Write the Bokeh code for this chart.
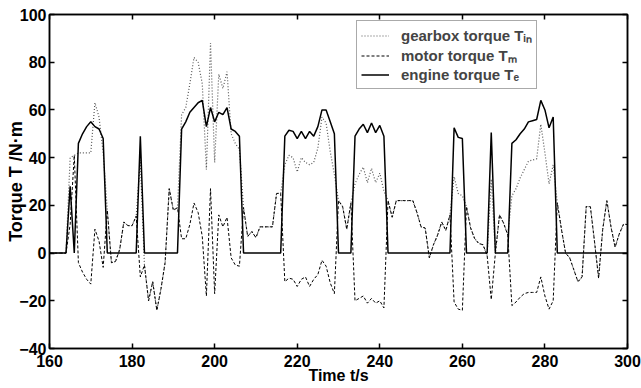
from bokeh.plotting import figure
from bokeh.models import Range1d, LinearAxis, Legend, LegendItem, FixedTicker
from bokeh.embed import file_html
from bokeh.resources import INLINE

time = list(range(160, 301))
engine = [0, 0, 0, 0, 0, 28, 0, 46, 50, 53,
          55, 53, 52, 48, 0, 0, 0, 0, 0, 0,
          0, 0, 49, 0, 0, 0, 0, 0, 0, 0,
          0, 0, 52, 55, 59, 61, 63, 64, 53, 61,
          55, 59, 58, 61, 52, 51, 49, 0, 0, 0,
          0, 0, 0, 0, 0, 0, 0, 49, 51.5, 51,
          48, 51, 48, 51, 49, 53, 60, 60, 55, 50,
          0, 0, 0, 0, 49, 52, 54, 50.5, 54.5, 50.5,
          53.5, 49, 0, 0, 0, 0, 0, 0, 0, 0,
          0, 0, 0, 0, 0, 0, 0, 0, 52.5, 48.5,
          48, 0, 0, 0, 0, 0, 0, 50.5, 0, 0,
          0, 0, 46, 47.5, 50, 52, 55, 55.5, 56, 64,
          60, 52.5, 57, 0, 0, 0, 0, 0, 0, 0,
          0, 0, 0, 0, 0, 0, 0, 0, 0, 0,
          0]
motor = [0, 0, 0, 0, 0, 12, 41, -4, -8, -11,
         -13, 10, 5, -6, 18, -4, -3.5, 1.5, 13, 11.5,
         11.5, 15.5, -10, -5, -20, -12, -24, -15, -4, 27,
         18, 19, 6, 6, 12, 21, 17, 7, -18, 27,
         -17, 16, 11, 15, -2, -5, -5.5, 19, 7, 9,
         6.5, 11, 11, 11, 11, 25, 25, -12, -10.5, -11,
         -14, -11, -10, -14, -11, -9, -3, -5.5, -12.5, -17,
         22, 19.5, 10, 21, -20, -19, -18, -21, -19, -21,
         -20, -23, 22, 15, 22, 22, 22, 22, 22, 17,
         11, 10.5, -2, 3.5, 7.5, 13, 9.5, 16, -20.5, -23.5,
         -24, 19.5, 10.5, 6, 4, 3.5, -1, -19.5, 0, 16,
         12.5, 7.5, -22, -20.5, -18.5, -17, -16.5, -16.5, -16.5, -10,
         -18, -23.5, -20, 21, 10, 0, -2, -7, -12, -10,
         19.5, 19.5, 5, -10.5, 10, 22, 11, 2.5, 8, 12,
         12]
gearbox = [0, 0, 0, 0, 0, 40, 41, 42, 42, 42,
           42, 63, 57, 42, 18, -4, -3.5, 1.5, 13, 11.5,
           11.5, 15.5, 39, -5, -20, -12, -24, -15, -4, 27,
           18, 19, 58, 61, 71, 82, 80, 71, 35, 88,
           38, 75, 69, 76, 50, 46, 43.5, 19, 7, 9,
           6.5, 11, 11, 11, 11, 25, 25, 37, 41, 40,
           34, 40, 38, 37, 38, 44, 57, 54.5, 42.5, 33,
           22, 19.5, 10, 21, 29, 33, 36, 29.5, 35.5, 29.5,
           33.5, 26, 22, 15, 22, 22, 22, 22, 22, 17,
           11, 10.5, -2, 3.5, 7.5, 13, 9.5, 16, 32, 25,
           24, 19.5, 10.5, 6, 4, 3.5, -1, 31, 0, 16,
           12.5, 7.5, 24, 27, 31.5, 35, 38.5, 39, 39.5, 54,
           42, 29, 37, 21, 10, 0, -2, -7, -12, -10,
           19.5, 19.5, 5, -10.5, 10, 22, 11, 2.5, 8, 12,
           12]
x_ticks = [160, 180, 200, 220, 240, 260, 280, 300]
y_ticks = [-40, -20, 0, 20, 40, 60, 80, 100]
labels = ["gearbox torque T\u1d62\u2099", "motor torque T\u2098", "engine torque T\u2091"]

FONT = "Liberation Sans"

p = figure(width=641, height=388, output_backend="svg", toolbar_location=None,
           x_range=Range1d(160, 300), y_range=Range1d(-40, 100),
           min_border_left=49, min_border_right=14, min_border_top=14,
           min_border_bottom=40, x_axis_label="Time t/s",
           y_axis_label="Torque T /N\u00b7m")
p.grid.visible = False
p.outline_line_color = "black"
p.outline_line_width = 1.5
p.background_fill_color = "white"
p.border_fill_color = "white"

for ax, ticks in ((p.xaxis[0], x_ticks), (p.yaxis[0], y_ticks)):
    ax.ticker = FixedTicker(ticks=ticks)
    ax.major_tick_in = 5
    ax.major_tick_out = 0
    ax.minor_tick_line_color = None
    ax.axis_line_width = 1.5
    ax.major_tick_line_width = 1.5
    ax.major_label_text_font = FONT
    ax.major_label_text_font_style = "bold"
    ax.major_label_text_font_size = "16px"
    ax.major_label_text_color = "black"
    ax.axis_label_text_font = FONT
    ax.axis_label_text_font_style = "bold"
    ax.axis_label_text_color = "black"

p.xaxis[0].major_label_standoff = 6
p.xaxis[0].axis_label_text_font_size = "16px"
p.xaxis[0].axis_label_standoff = -3
p.yaxis[0].major_label_standoff = 3
p.yaxis[0].axis_label_text_font_size = "18px"
p.yaxis[0].axis_label_standoff = -10

for loc, ticks in (("above", x_ticks), ("right", y_ticks)):
    ax = LinearAxis(ticker=FixedTicker(ticks=ticks), major_tick_in=5, major_tick_out=0,
                    minor_tick_line_color=None, major_label_text_font_size="1px",
                    major_label_text_color=None,
                    major_label_standoff=0, axis_line_width=1.5, major_tick_line_width=1.5)
    p.add_layout(ax, loc)

r_g = p.line(time, gearbox, line_color="#555555", line_width=1.2, line_dash="1 2")
r_m = p.line(time, motor, line_color="black", line_width=1, line_dash="3 2")
r_e = p.line(time, engine, line_color="black", line_width=1.5)

legend = Legend(items=[LegendItem(label=labels[0], renderers=[r_g]),
                       LegendItem(label=labels[1], renderers=[r_m]),
                       LegendItem(label=labels[2], renderers=[r_e])],
                location=(307, 259))
legend.border_line_color = "#555555"
legend.border_line_width = 1
legend.background_fill_alpha = 1
legend.label_text_font = FONT
legend.label_text_font_style = "bold"
legend.label_text_font_size = "15px"
legend.glyph_width = 28
legend.glyph_height = 19
legend.label_height = 19
legend.spacing = 0
legend.padding = 4
legend.margin = 0
legend.label_standoff = 12
p.add_layout(legend)

open("out.html", "w").write(file_html(p, INLINE))
